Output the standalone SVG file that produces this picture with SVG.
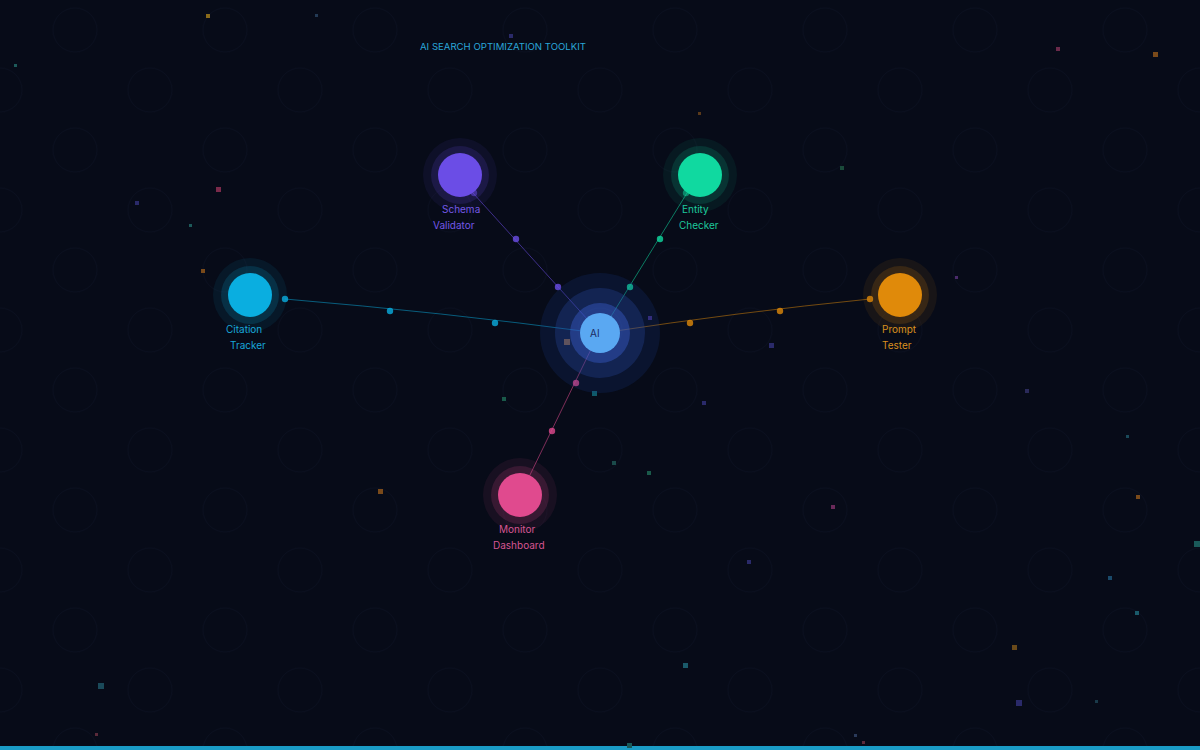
<svg xmlns="http://www.w3.org/2000/svg" width="1200" height="750" viewBox="0 0 1200 750">
<defs>
<style>
.lbl{font-family:"Inter","Liberation Sans",sans-serif;font-size:10px}
.title{font-family:"Inter","Liberation Sans",sans-serif;font-size:9.6px;fill:#2aa6d8}
.conn{fill:none;stroke-width:1}
.sp{stroke:none}
</style>
<pattern id="bgp" x="0" y="0" width="150" height="120" patternUnits="userSpaceOnUse">
<circle cx="75" cy="30" r="22" fill="none" stroke="#0a0f1f" stroke-width="1"/>
<circle cx="0" cy="90" r="22" fill="none" stroke="#0a0f1f" stroke-width="1"/>
<circle cx="150" cy="90" r="22" fill="none" stroke="#0a0f1f" stroke-width="1"/>
</pattern>
</defs>
<rect width="1200" height="750" fill="#070b18"/>
<rect width="1200" height="750" fill="url(#bgp)"/>
<rect x="0" y="746" width="1200" height="4" fill="#1a9cc6"/>

<g id="particles">
<rect x="206" y="14" width="4" height="4" fill="#8a6a1a"/>
<rect x="315" y="14" width="3" height="3" fill="#233a55"/>
<rect x="14" y="64" width="3" height="3" fill="#1d5a5a"/>
<rect x="216" y="187" width="5" height="5" fill="#7a2a4a"/>
<rect x="135" y="201" width="4" height="4" fill="#2a2a6a"/>
<rect x="189" y="224" width="3" height="3" fill="#1d5a5a"/>
<rect x="201" y="269" width="4" height="4" fill="#7a4a1a"/>
<rect x="509" y="34" width="4" height="4" fill="#2a2a6a"/>
<rect x="1056" y="47" width="4" height="4" fill="#6a2a4a"/>
<rect x="1153" y="52" width="5" height="5" fill="#7a4a1a"/>
<rect x="698" y="112" width="3" height="3" fill="#5a3a1a"/>
<rect x="840" y="166" width="4" height="4" fill="#1a4a3a"/>
<rect x="955" y="276" width="3" height="3" fill="#4a2a6a"/>
<rect x="648" y="316" width="4" height="4" fill="#3a2a7a"/>
<rect x="564" y="339" width="6" height="6" fill="#8a5a2a"/>
<rect x="769" y="343" width="5" height="5" fill="#2a2a6a"/>
<rect x="592" y="391" width="5" height="5" fill="#0f5a6a"/>
<rect x="502" y="397" width="4" height="4" fill="#1a5a4a"/>
<rect x="702" y="401" width="4" height="4" fill="#2a2a6a"/>
<rect x="1025" y="389" width="4" height="4" fill="#2a2a5a"/>
<rect x="1126" y="435" width="3" height="3" fill="#1a4a5a"/>
<rect x="612" y="461" width="4" height="4" fill="#1a4a4a"/>
<rect x="647" y="471" width="4" height="4" fill="#1a5a4a"/>
<rect x="378" y="489" width="5" height="5" fill="#7a4a1a"/>
<rect x="831" y="505" width="4" height="4" fill="#6a2a5a"/>
<rect x="1136" y="495" width="4" height="4" fill="#7a4a1a"/>
<rect x="1194" y="541" width="6" height="6" fill="#1a5a5a"/>
<rect x="747" y="560" width="4" height="4" fill="#2a2a6a"/>
<rect x="1108" y="576" width="4" height="4" fill="#1a4a6a"/>
<rect x="1135" y="611" width="4" height="4" fill="#1a5a6a"/>
<rect x="1012" y="645" width="5" height="5" fill="#6a4a1a"/>
<rect x="683" y="663" width="5" height="5" fill="#1a5a6a"/>
<rect x="98" y="683" width="6" height="6" fill="#1a4a5a"/>
<rect x="1016" y="700" width="6" height="6" fill="#2a2a6a"/>
<rect x="1095" y="700" width="3" height="3" fill="#1a3a4a"/>
<rect x="95" y="733" width="3" height="3" fill="#5a2a3a"/>
<rect x="627" y="743" width="5" height="5" fill="#1a5a5a"/>
<rect x="854" y="734" width="3" height="3" fill="#2a3a5a"/>
<rect x="862" y="741" width="3" height="3" fill="#5a2a3a"/>
</g>

<text class="title" x="420" y="50">AI SEARCH OPTIMIZATION TOOLKIT</text>

<g id="connectors">
<path class="conn" d="M285,299 Q440,312 598,333" stroke="#0aaee0" stroke-opacity="0.5"/>
<path class="conn" d="M870,299 Q740,312 602,333" stroke="#e08a0a" stroke-opacity="0.5"/>
<path class="conn" d="M473,193 L598,331" stroke="#6b4de6" stroke-opacity="0.55"/>
<path class="conn" d="M687,193 L602,331" stroke="#10d9a0" stroke-opacity="0.55"/>
<path class="conn" d="M528,479 L598,335" stroke="#e04a8e" stroke-opacity="0.55"/>
<g class="sp">
<circle cx="285" cy="299" r="3.2" fill="#0aaee0" fill-opacity="0.8"/>
<circle cx="390" cy="311" r="3.2" fill="#0aaee0" fill-opacity="0.8"/>
<circle cx="495" cy="323" r="3.2" fill="#0aaee0" fill-opacity="0.8"/>
<circle cx="870" cy="299" r="3.2" fill="#e08a0a" fill-opacity="0.8"/>
<circle cx="780" cy="311" r="3.2" fill="#e08a0a" fill-opacity="0.8"/>
<circle cx="690" cy="323" r="3.2" fill="#e08a0a" fill-opacity="0.8"/>
<circle cx="474" cy="193" r="3.2" fill="#6b4de6" fill-opacity="0.5"/>
<circle cx="516" cy="239" r="3.2" fill="#6b4de6" fill-opacity="0.8"/>
<circle cx="558" cy="287" r="3.2" fill="#6b4de6" fill-opacity="0.8"/>
<circle cx="686" cy="193" r="3.2" fill="#10d9a0" fill-opacity="0.5"/>
<circle cx="660" cy="239" r="3.2" fill="#10d9a0" fill-opacity="0.8"/>
<circle cx="630" cy="287" r="3.2" fill="#10d9a0" fill-opacity="0.8"/>
<circle cx="528" cy="479" r="3.2" fill="#e04a8e" fill-opacity="0.5"/>
<circle cx="552" cy="431" r="3.2" fill="#e04a8e" fill-opacity="0.8"/>
<circle cx="576" cy="383" r="3.2" fill="#e04a8e" fill-opacity="0.8"/>
</g>
</g>

<g id="node-center">
<circle cx="600" cy="333" r="60" fill="#1b3a8a" fill-opacity="0.2"/>
<circle cx="600" cy="333" r="45" fill="#2a4fb0" fill-opacity="0.28"/>
<circle cx="600" cy="333" r="30" fill="#3a5fd0" fill-opacity="0.42"/>
<circle cx="600" cy="333" r="20" fill="#5aa8f2"/>
<text class="lbl" x="590" y="337" fill="#1a2a60">AI</text>
</g>

<g id="node-schema">
<circle cx="460" cy="175" r="37" fill="#6b4de6" fill-opacity="0.08"/>
<circle cx="460" cy="175" r="29" fill="#6b4de6" fill-opacity="0.16"/>
<circle cx="460" cy="175" r="22" fill="#6b4de6"/>
<text class="lbl" x="442" y="213" fill="#7458e6">Schema</text>
<text class="lbl" x="433" y="229" fill="#7458e6">Validator</text>
</g>

<g id="node-entity">
<circle cx="700" cy="175" r="37" fill="#10d9a0" fill-opacity="0.07"/>
<circle cx="700" cy="175" r="29" fill="#10d9a0" fill-opacity="0.14"/>
<circle cx="700" cy="175" r="22" fill="#10d9a0"/>
<text class="lbl" x="682" y="213" fill="#1ec99c">Entity</text>
<text class="lbl" x="679" y="229" fill="#1ec99c">Checker</text>
</g>

<g id="node-citation">
<circle cx="250" cy="295" r="37" fill="#0aaee0" fill-opacity="0.08"/>
<circle cx="250" cy="295" r="29" fill="#0aaee0" fill-opacity="0.16"/>
<circle cx="250" cy="295" r="22" fill="#0aaee0"/>
<text class="lbl" x="226" y="333" fill="#18a6d8">Citation</text>
<text class="lbl" x="230" y="349" fill="#18a6d8">Tracker</text>
</g>

<g id="node-prompt">
<circle cx="900" cy="295" r="37" fill="#e08a0a" fill-opacity="0.08"/>
<circle cx="900" cy="295" r="29" fill="#e08a0a" fill-opacity="0.16"/>
<circle cx="900" cy="295" r="22" fill="#e08a0a"/>
<text class="lbl" x="882" y="333" fill="#d9901e">Prompt</text>
<text class="lbl" x="882" y="349" fill="#d9901e">Tester</text>
</g>

<g id="node-monitor">
<circle cx="520" cy="495" r="37" fill="#e04a8e" fill-opacity="0.08"/>
<circle cx="520" cy="495" r="29" fill="#e04a8e" fill-opacity="0.16"/>
<circle cx="520" cy="495" r="22" fill="#e04a8e"/>
<text class="lbl" x="499" y="533" fill="#d65592">Monitor</text>
<text class="lbl" x="493" y="549" fill="#d65592">Dashboard</text>
</g>
</svg>
